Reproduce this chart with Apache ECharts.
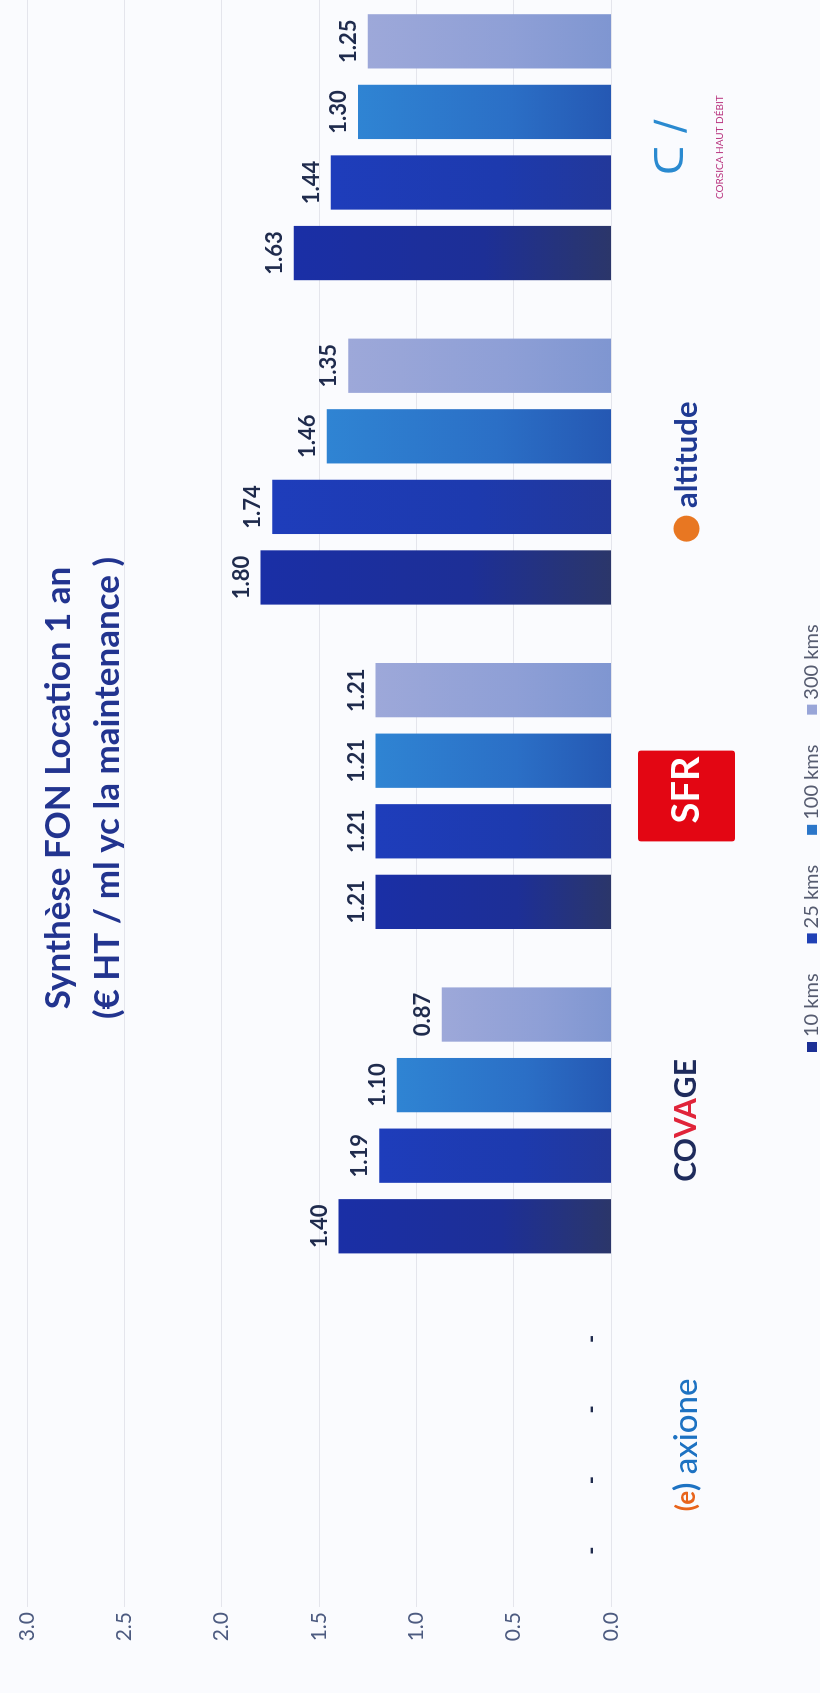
<!DOCTYPE html>
<html>
<head>
<meta charset="utf-8">
<script src="https://cdn.jsdelivr.net/npm/echarts@6/dist/echarts.min.js"></script>
<style>
  html, body { margin: 0; padding: 0; width: 820px; height: 1693px; overflow: hidden; background: #fafbfe; }
  #chart { position: absolute; left: 0; top: 0; width: 1693px; height: 820px;
           transform-origin: 0 0; transform: translateY(1693px) rotate(-90deg); }
</style>
</head>
<body>
<div id="chart"></div>
<script>
// ---- data ----
const categories = ['Axione', 'Covage', 'SFR', 'Altitude', 'Corsica Haut Débit'];
const seriesNames = ['10 kms', '25 kms', '100 kms', '300 kms'];
const values10 = [0, 1.40, 1.21, 1.80, 1.63];
const values25 = [0, 1.19, 1.21, 1.74, 1.44];
const values100 = [0, 1.10, 1.21, 1.46, 1.30];
const values300 = [0, 0.87, 1.21, 1.35, 1.25];
const valueTicks = [0, 0.5, 1.0, 1.5, 2.0, 2.5, 3.0];
const titleLines = ['Synthèse FON Location 1 an', '(€ HT / ml yc la maintenance )'];

const FONT = 'Lato, "Open Sans", sans-serif';
const grad = (a, b, c) => new echarts.graphic.LinearGradient(0, 0, 0, 1, [
  { offset: 0, color: a }, { offset: 0.6, color: b }, { offset: 1, color: c }
]);
const colors = [
  grad('#1a2fa6', '#1d2f96', '#2b366a'),
  grad('#1e3dbb', '#1d3aae', '#22389a'),
  grad('#2f84d3', '#2b6fc6', '#2558b3'),
  grad('#9da8d9', '#8e9fd6', '#7f96d1')
];
const legendColors = ['#1b2f95', '#1f40b5', '#2b76c9', '#98a5d8'];
const allValues = [values10, values25, values100, values300];

const logoFormatter = function (name) {
  switch (name) {
    case 'Axione': return '{eo|(e}{eb|)}{ax| axione}';
    case 'Covage': return '{cv|CO}{cr|VA}{cv|GE}';
    case 'SFR': return '{sfr|SFR}';
    case 'Altitude': return '{ad| }{al| altitude}';
    default: return '{cb|ᑕ ∕}\n{cp|CORSICA HAUT DÉBIT}';
  }
};
const LH = 97;
const rich = {
  eo: { color: '#e8641b', fontFamily: FONT, fontSize: 26, fontWeight: 'bold', lineHeight: LH },
  eb: { color: '#1d72c2', fontFamily: FONT, fontSize: 30, fontWeight: 'bold', lineHeight: LH },
  ax: { color: '#1d72c2', fontFamily: FONT, fontSize: 33, fontWeight: 500, lineHeight: LH },
  cv: { color: '#1e2b5c', fontFamily: FONT, fontSize: 30, fontWeight: 'bold', lineHeight: LH },
  cr: { color: '#e0243a', fontFamily: FONT, fontSize: 30, fontWeight: 'bold', lineHeight: LH },
  sfr: { color: '#ffffff', backgroundColor: '#e30613', fontFamily: FONT, fontSize: 38, fontWeight: 'bold',
         height: 97, lineHeight: 97, padding: [0, 6, 0, 18], borderRadius: 3 },
  ad: { backgroundColor: '#e87722', width: 26, height: 26, borderRadius: 13, lineHeight: LH },
  al: { color: '#1f3a93', fontFamily: FONT, fontSize: 31, fontWeight: 'bold', lineHeight: LH },
  cb: { color: '#2a8ad0', fontFamily: '"DejaVu Sans", sans-serif', fontSize: 40, lineHeight: 70 },
  cp: { color: '#b8327e', fontFamily: FONT, fontSize: 10, lineHeight: 24 }
};

const chart = echarts.init(document.getElementById('chart'), null, { renderer: 'canvas' });
chart.setOption({
  backgroundColor: '#fafbfe',
  animation: false,
  graphic: [{
    type: 'text', x: 905, y: 34,
    style: {
      text: titleLines.join('\n'), textAlign: 'center', textVerticalAlign: 'top',
      fontFamily: FONT, fontSize: 35, fontWeight: 'bold', lineHeight: 49, fill: '#22348f'
    }
  }],
  legend: {
    left: 636, top: 797, itemWidth: 10, itemHeight: 10, itemGap: 30, icon: 'rect',
    textStyle: { fontFamily: FONT, fontSize: 20, color: '#555b70' },
    data: seriesNames.map((n, i) => ({ name: n, itemStyle: { color: legendColors[i] } }))
  },
  grid: { left: 86, top: 27, width: 1622, height: 584, containLabel: false, outerBoundsMode: 'none' },
  xAxis: {
    type: 'category', data: categories,
    axisLine: { show: false }, axisTick: { show: false },
    axisLabel: { margin: 27, formatter: logoFormatter, rich: rich, interval: 0 }
  },
  yAxis: {
    type: 'value', min: valueTicks[0], max: valueTicks[valueTicks.length - 1], interval: 0.5,
    axisLine: { show: false }, axisTick: { show: false },
    axisLabel: { margin: 5, fontFamily: FONT, fontSize: 21, color: '#4d5b80',
                 formatter: v => v.toFixed(1) },
    splitLine: { lineStyle: { color: '#e4e5ec', width: 1 } }
  },
  series: seriesNames.map((n, i) => ({
    name: n, type: 'bar', data: allValues[i],
    barCategoryGap: '18%', barGap: '30%',
    itemStyle: { color: colors[i] },
    label: {
      show: true, position: 'top', distance: 8,
      fontFamily: FONT, fontSize: 22, fontWeight: 'bold', color: '#1f2b4d',
      formatter: p => (p.value === 0 ? '-' : p.value.toFixed(2))
    }
  }))
});
</script>
</body>
</html>
